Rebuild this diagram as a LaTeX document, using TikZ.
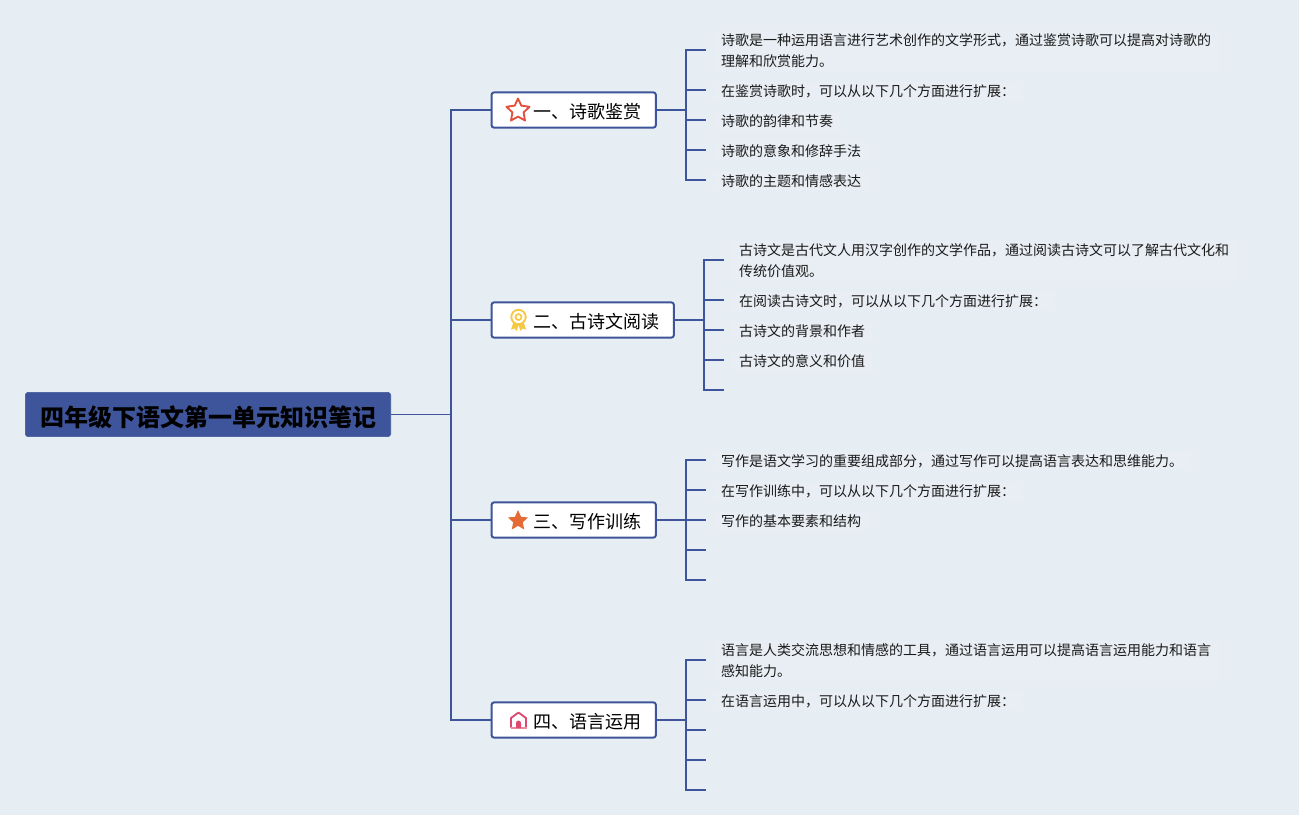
\documentclass[tikz,border=0pt]{standalone}
\usepackage{fontspec}
\setmainfont{Noto Sans CJK SC}
\definecolor{bgc}{HTML}{E6EEF3}
\definecolor{leafbg}{HTML}{E9EEF4}
\definecolor{linec}{HTML}{3F559B}
\definecolor{txtc}{HTML}{1A1A1A}
\tikzset{
  rootbox/.style={fill=linec,draw=linec,rounded corners=2.2pt,line width=0.5pt,minimum width=274pt,minimum height=33.2pt,inner sep=0pt,font=\fontsize{18}{22}\selectfont\bfseries,text=black},
  branchbox/.style={fill=white,draw=linec,rounded corners=2pt,line width=1.5pt,minimum height=26.5pt,inner sep=0pt,anchor=west},
  branchtext/.style={inner sep=0pt,anchor=west,font=\fontsize{13.5}{16}\selectfont,text=black},
  leaf/.style={fill=leafbg,anchor=west,inner ysep=2pt,inner xsep=5.25pt,outer xsep=6pt,outer ysep=0pt,align=left,font=\fontsize{10.5}{15.75}\selectfont,text=txtc},
  conn/.style={draw=linec,line width=1.5pt},
  trunk/.style={draw=linec,line width=1.4pt}
}
\begin{document}
\begin{tikzpicture}[x=0.75pt,y=-0.75pt]
\fill[bgc] (0,0) rectangle (1299,815);
\useasboundingbox (0,0) rectangle (1299,815);
% root
\node[rootbox] (root) at (208,414.5) {\raisebox{-9.1pt}[0pt][0pt]{四年级下语文第一单元知识笔记}};
% branches
\node[branchbox,minimum width=123.3pt] (b1) at (490.5,110) {};
\node[branchbox,minimum width=136.8pt] (b2) at (490.5,320) {};
\node[branchbox,minimum width=123.3pt] (b3) at (490.5,520) {};
\node[branchbox,minimum width=123.3pt] (b4) at (490.5,720) {};
\node[branchtext] (t1) at (533,112) {一、诗歌鉴赏};
\node[branchtext] (t2) at (533,322) {二、古诗文阅读};
\node[branchtext] (t3) at (533,522) {三、写作训练};
\node[branchtext] (t4) at (533,722) {四、语言运用};
% trunk
\coordinate (tr) at (451,414.5);
\draw[trunk] (root.east) -- (tr);
\draw[trunk] (tr) |- (b1.west);
\draw[trunk] (tr) |- (b2.west);
\draw[trunk] (tr) |- (b3.west);
\draw[trunk] (tr) |- (b4.west);
% leaves group 1
\node[leaf] (l11) at (706,51) {诗歌是一种运用语言进行艺术创作的文学形式，通过鉴赏诗歌可以提高对诗歌的\\理解和欣赏能力。};
\node[leaf] (l12) at (706,91) {在鉴赏诗歌时，可以从以下几个方面进行扩展：};
\node[leaf] (l13) at (706,121) {诗歌的韵律和节奏};
\node[leaf] (l14) at (706,151) {诗歌的意象和修辞手法};
\node[leaf] (l15) at (706,181) {诗歌的主题和情感表达};
% leaves group 2
\node[leaf] (l21) at (724,261) {古诗文是古代文人用汉字创作的文学作品，通过阅读古诗文可以了解古代文化和\\传统价值观。};
\node[leaf] (l22) at (724,301) {在阅读古诗文时，可以从以下几个方面进行扩展：};
\node[leaf] (l23) at (724,331) {古诗文的背景和作者};
\node[leaf] (l24) at (724,361) {古诗文的意义和价值};
\coordinate (l25) at (724,391);
% leaves group 3
\node[leaf] (l31) at (706,461) {写作是语文学习的重要组成部分，通过写作可以提高语言表达和思维能力。};
\node[leaf] (l32) at (706,491) {在写作训练中，可以从以下几个方面进行扩展：};
\node[leaf] (l33) at (706,521) {写作的基本要素和结构};
\coordinate (l34) at (706,551);
\coordinate (l35) at (706,581);
% leaves group 4
\node[leaf] (l41) at (706,661) {语言是人类交流思想和情感的工具，通过语言运用可以提高语言运用能力和语言\\感知能力。};
\node[leaf] (l42) at (706,701) {在语言运用中，可以从以下几个方面进行扩展：};
\coordinate (l43) at (706,731);
\coordinate (l44) at (706,761);
\coordinate (l45) at (706,791);
% spines
\coordinate (s1) at (686,110);
\coordinate (s2) at (704,320);
\coordinate (s3) at (686,520);
\coordinate (s4) at (686,720);
\draw[conn] (b1.east) -- (s1);
\draw[conn] (b2.east) -- (s2);
\draw[conn] (b3.east) -- (s3);
\draw[conn] (b4.east) -- (s4);
\foreach \n in {1,...,5}{
  \draw[conn] (s1) |- ([yshift=0.75pt]l1\n.west);
  \draw[conn] (s2) |- ([yshift=0.75pt]l2\n.west);
  \draw[conn] (s3) |- ([yshift=0.75pt]l3\n.west);
  \draw[conn] (s4) |- ([yshift=0.75pt]l4\n.west);
}
% icon 1: outline star
\definecolor{starc}{HTML}{E2513F}
\draw[draw=starc,line width=1.4pt,line join=round,fill=white]
 (518,98.5) -- (521.3,105.6) -- (529.5,106.8) -- (523.6,112.4) -- (525,120.5) -- (518,116.6) -- (511,120.5) -- (512.4,112.4) -- (506.5,106.8) -- (514.7,105.6) -- cycle;
% icon 2: medal
\definecolor{medal}{HTML}{F6C945}
\fill[medal] (513.5,322) -- (511,329.5) -- (514.5,328.5) -- (516.5,331) -- (518.5,325) -- (520.5,331) -- (522.5,328.5) -- (526,329.5) -- (523.5,322) -- cycle;
\draw[medal,line width=1.4pt,fill=white] (518.5,317) circle (7.2);
\draw[medal,line width=1.3pt] (518.5,317) circle (3);
% icon 3: filled star
\definecolor{starf}{HTML}{E56B35}
\fill[fill=starf]
 (518,510) -- (521,516.8) -- (528,517.5) -- (522.8,522.3) -- (524.2,529.5) -- (518,525.8) -- (511.8,529.5) -- (513.2,522.3) -- (508,517.5) -- (515,516.8) -- cycle;
% icon 4: house
\definecolor{housec}{HTML}{DD4A70}
\draw[housec,line width=1.4pt,line join=round] (511,727.5) -- (511,718) -- (518.5,712.5) -- (526,718) -- (526,727.5);
\draw[housec!65,line width=1.4pt] (510.5,728.3) -- (526.5,728.3);
\fill[housec] (516,728) -- (516,723) arc (180:360:2.5) -- (521,728) -- cycle;
\end{tikzpicture}
\end{document}
